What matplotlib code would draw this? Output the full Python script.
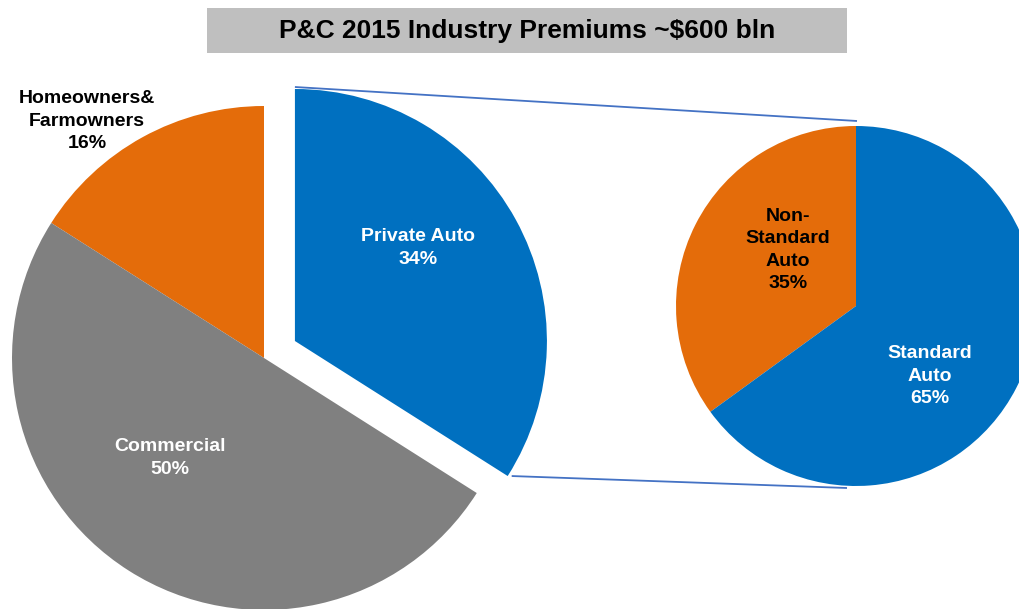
import numpy as np
import matplotlib
matplotlib.use("Agg")
import matplotlib.pyplot as plt
from matplotlib.patches import Rectangle

plt.rcParams['font.family'] = ['Liberation Sans', 'DejaVu Sans']

title = "P&C 2015 Industry Premiums ~$600 bln"
main_labels = ["Homeowners&\nFarmowners", "Commercial", "Private Auto"]
main_values = [16, 50, 34]
sub_labels = ["Non-\nStandard\nAuto", "Standard\nAuto"]
sub_values = [35, 65]

BLUE = "#0070C0"
ORANGE = "#E46C0A"
GRAY = "#808080"
LINE = "#4472C4"

W, H = 1020, 609
fig = plt.figure(figsize=(W / 100, H / 100), dpi=100)
ax = fig.add_axes([0, 0, 1, 1])

# main pie
c1 = (264, H - 358)
r1 = 252
explode = [0, 0, 0.14 * r1]  # matplotlib explode is in data units
w1, _ = ax.pie(main_values, colors=[ORANGE, GRAY, BLUE], startangle=90,
               counterclock=True, center=c1, radius=r1, explode=explode,
               wedgeprops=dict(linewidth=0))

# sub pie
c2 = (856, H - 306)
r2 = 180
w2, _ = ax.pie(sub_values, colors=[ORANGE, BLUE], startangle=90,
               counterclock=True, center=c2, radius=r2,
               wedgeprops=dict(linewidth=0))

ax.set_xlim(0, W)
ax.set_ylim(0, H)
ax.set_aspect('equal')
ax.axis('off')

# connector lines from exploded wedge to sub pie
bw = w1[2]
bc = bw.center
t1, t2 = np.deg2rad(bw.theta1), np.deg2rad(bw.theta2)
p_top = (bc[0] + bw.r * np.cos(t2), bc[1] + bw.r * np.sin(t2) + 2)
p_bot = (bc[0] + bw.r * np.cos(t1) + 4, bc[1] + bw.r * np.sin(t1))
q_top = (c2[0] + 1, c2[1] + r2 + 5)
q_bot = (c2[0] - 9, c2[1] - r2 - 2)
ax.plot([p_top[0], q_top[0]], [p_top[1], q_top[1]], color=LINE, lw=1.3,
        solid_capstyle='butt', clip_on=False)
ax.plot([p_bot[0], q_bot[0]], [p_bot[1], q_bot[1]], color=LINE, lw=1.3,
        solid_capstyle='butt', clip_on=False)

# labels
fs = 14
ls = 1.4
ax.text(87, H - 121, f"{main_labels[0]}\n{main_values[0]}%", ha='center', va='center',
        fontsize=fs, fontweight='bold', color='black', linespacing=ls)
ax.text(170, H - 458, f"{main_labels[1]}\n{main_values[1]}%", ha='center', va='center',
        fontsize=fs, fontweight='bold', color='white', linespacing=ls)
ax.text(418, H - 248, f"{main_labels[2]}\n{main_values[2]}%", ha='center', va='center',
        fontsize=fs, fontweight='bold', color='white', linespacing=ls)
ax.text(788, H - 250, f"{sub_labels[0]}\n{sub_values[0]}%", ha='center', va='center',
        fontsize=fs, fontweight='bold', color='black', linespacing=ls)
ax.text(930, H - 376, f"{sub_labels[1]}\n{sub_values[1]}%", ha='center', va='center',
        fontsize=fs, fontweight='bold', color='white', linespacing=ls)

# title box
fig.patches.append(Rectangle((207 / W, 1 - 53 / H), 640 / W, 45 / H,
                             transform=fig.transFigure, facecolor="#BFBFBF",
                             edgecolor='none', zorder=5))
fig.text(527 / W, 1 - 31 / H, title, ha='center', va='center', fontsize=19,
         fontweight='bold', color='black', zorder=6)

fig.savefig("out.png", dpi=100)
